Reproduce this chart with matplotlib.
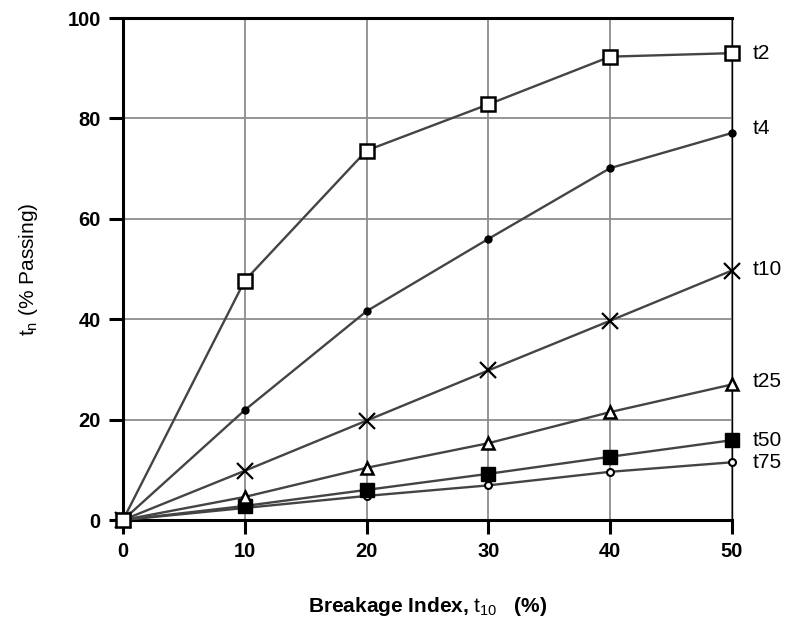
import matplotlib.pyplot as plt
import matplotlib as mpl

mpl.rcParams['font.family'] = ['Liberation Sans', 'DejaVu Sans']
mpl.rcParams['mathtext.fontset'] = 'custom'
mpl.rcParams['mathtext.rm'] = 'Liberation Sans'
mpl.rcParams['mathtext.it'] = 'Liberation Sans'
mpl.rcParams['mathtext.bf'] = 'Liberation Sans:bold'

# breakage index t10 (%)
t10_index = [0, 10, 20, 30, 40, 50]

# tn values (% passing) for each size fraction
t2 = [0, 47.7, 73.6, 82.8, 92.3, 93.0]
t4 = [0, 21.9, 41.6, 56.0, 70.1, 77.1]
t10 = [0, 9.8, 19.8, 29.8, 39.7, 49.7]
t25 = [0, 4.6, 10.4, 15.3, 21.5, 27.0]
t50 = [0, 2.8, 6.0, 9.2, 12.6, 15.9]
t75 = [0, 2.4, 4.8, 6.9, 9.6, 11.5]

series_names = ['t2', 't4', 't10', 't25', 't50', 't75']
label_y = [93.0, 78.0, 50.0, 27.5, 15.8, 11.5]

LINE = '#444444'

fig = plt.figure(figsize=(7.92, 6.34), dpi=100)
ax = fig.add_axes([0.1553, 0.1798, 0.7689, 0.7918])

styles = [
    dict(marker='s', ms=10, mfc='white', mec='black', mew=1.8),
    dict(marker='o', ms=5, mfc='black', mec='black', mew=1),
    dict(marker='x', ms=11, mfc='none', mec='black', mew=1.6),
    dict(marker='^', ms=9, mfc='white', mec='black', mew=1.8),
    dict(marker='s', ms=10, mfc='black', mec='black', mew=1),
    dict(marker='o', ms=5, mfc='white', mec='black', mew=1.5),
]

all_series = [t2, t4, t10, t25, t50, t75]
# draw lowest curves first so the open squares at the origin sit on top
for i in reversed(range(len(all_series))):
    ax.plot(t10_index, all_series[i], color=LINE, lw=1.7,
            zorder=3 + (len(all_series) - i), clip_on=False, **styles[i])

for name, yv in zip(series_names, label_y):
    ax.text(51.7, yv, name, fontsize=15, va='center', ha='left')

ax.set_xlim(0, 50)
ax.set_ylim(0, 100)
ax.set_xticks([0, 10, 20, 30, 40, 50])
ax.set_yticks([0, 20, 40, 60, 80, 100])

ax.grid(True, color='#8c8c8c', lw=1.3)
ax.set_axisbelow(True)

for side in ['left', 'bottom', 'top']:
    ax.spines[side].set_linewidth(2.2)
ax.spines['right'].set_linewidth(1.0)

ax.tick_params(direction='out', length=10, width=2.2, pad=6,
               labelsize=14.5)
for lab in ax.get_xticklabels() + ax.get_yticklabels():
    lab.set_fontweight('bold')

ax.set_xlabel(r'Breakage Index, $t_{10}$   (%)', fontsize=15,
              fontweight='bold', labelpad=24)
ax.set_ylabel(r'$t_{n}$ (% Passing)', fontsize=15, labelpad=20)

fig.savefig('out.png', dpi=100)
